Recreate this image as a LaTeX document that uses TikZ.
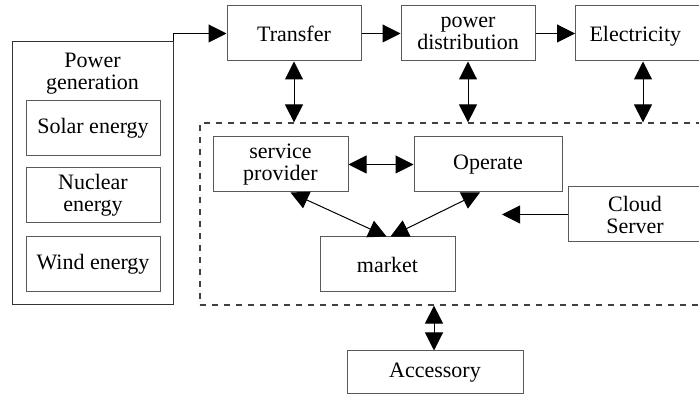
\documentclass[tikz,border=0pt]{standalone}
\usepackage{fontspec}
\setmainfont{Liberation Serif}
\usetikzlibrary{arrows.meta,calc}
\begin{document}
\begin{tikzpicture}[x=0.5pt,y=-0.5pt,
  font=\fontsize{11}{11}\selectfont,
  blk/.style={draw=black!65,line width=0.5pt,inner sep=0,align=center,minimum height=27.5pt},
  link/.style={line width=0.5pt,-{Triangle[length=9pt,width=9pt]}},
  both/.style={line width=0.5pt,{Triangle[length=9pt,width=9pt]}-{Triangle[length=9pt,width=9pt]}}]
  \useasboundingbox (0,0) rectangle (699,399);
  \clip (0,0) rectangle (699,399);
  % generation side
  \node [draw=black!80,line width=0.5pt,inner sep=0,minimum width=80.5pt,minimum height=131.5pt] (gen) at (92.5,173.5) {};
  \node [align=center,inner sep=0] (gentitle) at (92.5,74) {Power\\generation};
  \node [blk,minimum width=67pt] (solar) at (93,128.5) {Solar energy};
  \node [blk,minimum width=67pt] (nuclear) at (93,195.5) {Nuclear\\energy};
  \node [blk,minimum width=67pt] (wind) at (93,264) {Wind energy};
  % top row
  \node [blk,minimum width=67pt] (transfer) at (294,33.5) {Transfer};
  \node [blk,minimum width=67pt] (dist) at (468,33.5) {power\\distribution};
  \node [blk,anchor=west,align=left,inner xsep=7pt,text width=60pt,text depth=0pt] (elec) at (575,33.5) {Electricity};
  % platform
  \node [draw=black!75,dashed,line width=0.6pt,inner sep=0,minimum width=260pt,minimum height=91pt] (platform) at (460,214) {};
  \node [blk,minimum width=67.5pt] (sp) at (280.5,164.5) {service\\provider};
  \node [blk,minimum width=74pt] (op) at (488,164.5) {Operate};
  \node [blk,minimum width=67pt] (cloud) at (635,214.5) {Cloud\\Server};
  \node [blk,minimum width=67.5pt] (market) at (387.5,264.5) {market};
  \node [blk,minimum width=88pt,minimum height=21.5pt] (acc) at (435,372.5) {Accessory};
  \coordinate (cloudend) at (502,214.5);
  % connectors
  \draw [link] (gen.north east) |- (transfer.west);
  \draw [link] (transfer) -- (dist);
  \draw [link] (dist) -- (elec);
  \foreach \n in {transfer,dist} {
    \draw [both] (\n.south) -- (\n.south |- platform.north);
  }
  \draw [both] (elec.south -| 643,0) -- (platform.north -| 643,0);
  \draw [both] (sp) -- (op);
  \draw [both] ($(sp.south)+(10,0)$) -- ($(market.north)+(-1,0)$);
  \draw [both] ($(op.south)+(-8,0)$) -- ($(market.north)+(3,0)$);
  \draw [link] (cloud.west) -- (cloudend);
  \draw [both] (acc.north -| 434,0) -- (platform.south -| 434,0);
\end{tikzpicture}
\end{document}
